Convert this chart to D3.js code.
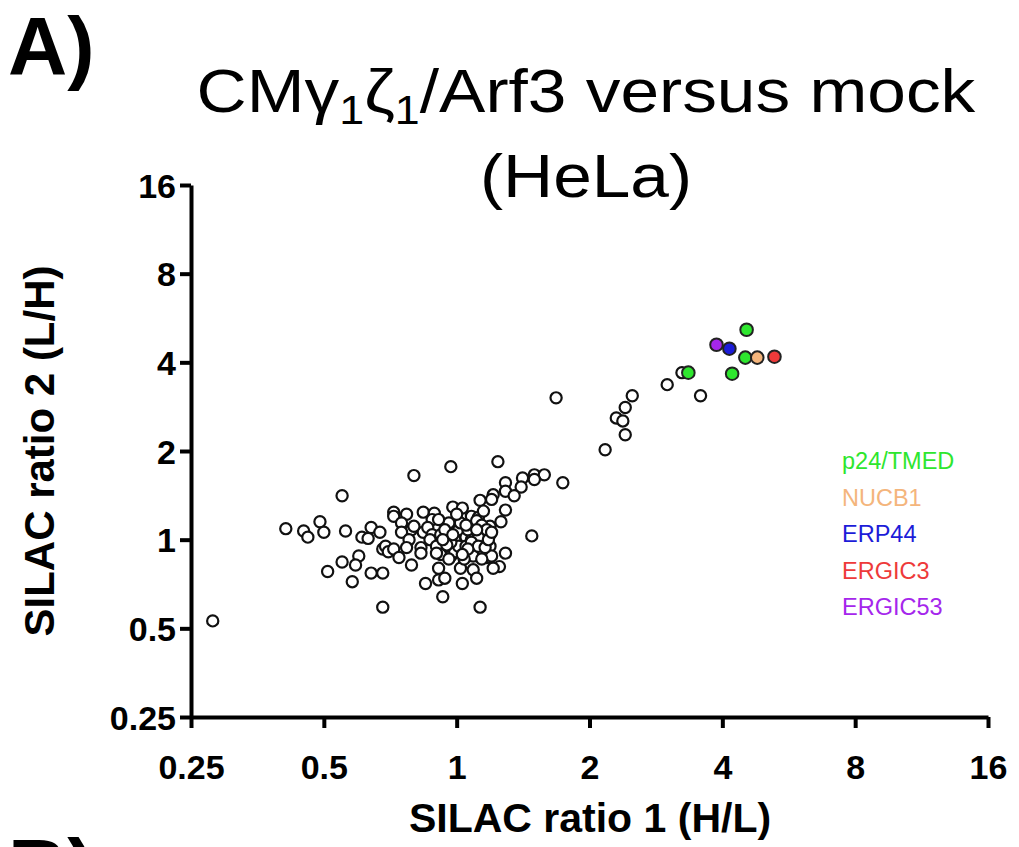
<!DOCTYPE html>
<html>
<head>
<meta charset="utf-8">
<script src="https://cdn.jsdelivr.net/npm/d3@7"></script>
<style>
  html, body { margin: 0; padding: 0; background: #fff; }
  svg { display: block; font-family: "Liberation Sans", Arial, sans-serif; }
</style>
</head>
<body>
<svg id="chart" width="1019" height="847"></svg>
<script>
// ---------- data (SILAC ratio 1 H/L, SILAC ratio 2 L/H) ----------
const otherX = [0.28,0.41,0.45,0.46,0.49,0.50,0.55,0.56,0.64,0.67,0.61,0.63,0.55,0.60,0.59,0.51,0.58,0.64,0.68,0.68,
  0.68,0.69,0.70,0.72,0.74,0.79,0.80,0.97,0.72,0.72,0.77,0.75,0.84,0.89,0.88,0.98,1.03,0.79,0.75,0.78,
  0.84,0.86,0.88,0.77,0.83,0.83,0.87,0.90,0.92,0.95,0.92,0.97,0.99,0.91,0.85,0.91,0.94,0.93,1.02,1.03,
  1.01,1.05,0.99,1.24,1.41,1.50,1.58,1.50,1.74,1.29,1.29,1.40,1.35,1.21,1.20,1.13,1.29,1.26,1.48,1.08,
  1.12,1.19,1.19,1.08,1.12,1.19,1.29,1.09,1.17,1.20,1.25,1.21,1.09,1.11,1.13,0.96,0.94,1.02,1.06,1.11,
  1.14,1.17,1.01,1.05,1.08,1.12,1.16,1.18,1.20,0.97,0.95,1.14,0.90,0.96,0.80,1.04,1.06,0.98,0.91,1.00,
  1.15,1.11,1.05,0.93,1.03,1.68,2.50,2.41,2.30,2.38,2.41,2.17,3.00,3.24,3.57];
const otherY = [0.53,1.09,1.07,1.02,1.15,1.06,1.41,1.07,1.10,1.06,1.02,1.01,0.84,0.88,0.82,0.78,0.72,0.77,0.77,0.59,
  0.93,0.95,0.91,0.93,0.87,0.82,1.65,1.77,1.24,1.20,1.22,1.14,1.24,1.23,1.17,1.29,1.28,1.08,1.06,1.00,
  1.06,1.10,1.04,0.94,0.94,0.90,1.00,0.95,1.04,1.12,0.89,0.88,0.91,0.80,0.71,0.73,0.74,0.64,0.80,0.71,
  1.08,1.02,1.00,1.84,1.62,1.66,1.66,1.60,1.56,1.56,1.46,1.51,1.41,1.42,1.37,1.36,1.26,1.15,1.03,1.20,
  1.19,1.11,1.04,1.00,1.02,0.95,0.90,0.88,0.87,0.88,0.81,0.80,0.79,0.74,0.59,1.14,1.08,1.14,1.08,1.16,
  1.12,1.08,0.95,0.95,0.98,0.95,0.94,1.00,1.06,0.98,0.96,0.86,0.90,0.86,1.11,0.86,0.93,1.04,1.17,1.22,
  1.25,1.08,1.12,1.00,0.89,3.03,3.08,2.81,2.59,2.53,2.27,2.02,3.36,3.69,3.08];

const groupNames  = ["p24/TMED","NUCB1","ERP44","ERGIC3","ERGIC53"];
const groupColors = ["#2ee62e","#f4b57c","#1c1cd8","#ee3a3a","#a526ec"];
const p24X = [3.35,4.54,4.51,4.21], p24Y = [3.69,5.16,4.15,3.66];
const nucb1X = [4.80], nucb1Y = [4.15];
const erp44X = [4.15], erp44Y = [4.45];
const ergic3X = [5.25], ergic3Y = [4.18];
const ergic53X = [3.88], ergic53Y = [4.59];

const tickValues = [0.25,0.5,1,2,4,8,16];
const tickLabels = ["0.25","0.5","1","2","4","8","16"];

// ---------- drawing ----------
const svg = d3.select("#chart");
const x = d3.scaleLog().base(2).domain([0.25,16]).range([191,988]);
const y = d3.scaleLog().base(2).domain([0.25,16]).range([717,185]);

const fmt = d => tickLabels[tickValues.indexOf(d)];

const gx = svg.append("g").attr("transform","translate(0,717)")
  .call(d3.axisBottom(x).tickValues(tickValues).tickFormat(fmt).tickSize(11).tickPadding(27).tickSizeOuter(0));
const gy = svg.append("g").attr("transform","translate(191,0)")
  .call(d3.axisLeft(y).tickValues(tickValues).tickFormat(fmt).tickSize(11).tickPadding(4).tickSizeOuter(0));
[gx,gy].forEach(g => {
  g.select(".domain").attr("stroke","#000").attr("stroke-width",4);
  g.selectAll(".tick line").attr("stroke","#000").attr("stroke-width",4);
  g.selectAll(".tick text").attr("fill","#000").attr("font-size",34).attr("font-weight","bold")
    .attr("font-family","'Liberation Sans', Arial, sans-serif");
});
gy.selectAll(".tick text").attr("dy","0.36em");

// open points
const others = otherX.map((v,i) => ({x:v, y:otherY[i]}));
svg.append("g").selectAll("circle").data(others).join("circle")
  .attr("cx", d => x(d.x)).attr("cy", d => y(d.y)).attr("r", 5.6)
  .attr("fill","#fff").attr("stroke","#111").attr("stroke-width",2.2);

// coloured points
const groups = [[p24X,p24Y],[nucb1X,nucb1Y],[erp44X,erp44Y],[ergic3X,ergic3Y],[ergic53X,ergic53Y]];
groups.forEach((g,gi) => {
  const pts = g[0].map((v,i) => ({x:v, y:g[1][i]}));
  svg.append("g").selectAll("circle").data(pts).join("circle")
    .attr("cx", d => x(d.x)).attr("cy", d => y(d.y)).attr("r", 6.3)
    .attr("fill", groupColors[gi]).attr("stroke","#222").attr("stroke-width",2);
});

// legend
const leg = svg.append("g");
groupNames.forEach((n,i) => {
  leg.append("text").attr("x",842).attr("y",469 + i*36.5)
    .attr("font-size",23.5).attr("fill",groupColors[i]).text(n);
});

// axis titles
svg.append("text").attr("x",590).attr("y",832).attr("text-anchor","middle")
  .attr("font-size",41).attr("font-weight","bold").text("SILAC ratio 1 (H/L)");
svg.append("text").attr("transform","translate(54,451) rotate(-90)").attr("text-anchor","middle")
  .attr("font-size",42).attr("font-weight","bold").text("SILAC ratio 2 (L/H)");

// title
const tg = svg.append("g").attr("transform","translate(586,0) scale(1.12,1) translate(-586,0)");
const t = tg.append("text").attr("x",586).attr("y",112).attr("text-anchor","middle").attr("font-size",62).attr("fill","#000");
t.append("tspan").text("CMγ");
t.append("tspan").attr("font-size",40).attr("dy",12).attr("fill","#000").text("1");
t.append("tspan").attr("dy",-12).text("ζ");
t.append("tspan").attr("font-size",40).attr("dy",12).attr("fill","#000").text("1");
t.append("tspan").attr("dy",-12).text("/Arf3 versus mock");
tg.append("text").attr("x",586).attr("y",197).attr("text-anchor","middle").attr("font-size",62).attr("fill","#000").text("(HeLa)");

// panel letters
svg.append("text").attr("x",8).attr("y",74).attr("font-size",82).attr("font-weight","bold").text("A)");
svg.append("text").attr("x",8).attr("y",896).attr("font-size",82).attr("font-weight","bold").text("B)");
</script>
</body>
</html>
